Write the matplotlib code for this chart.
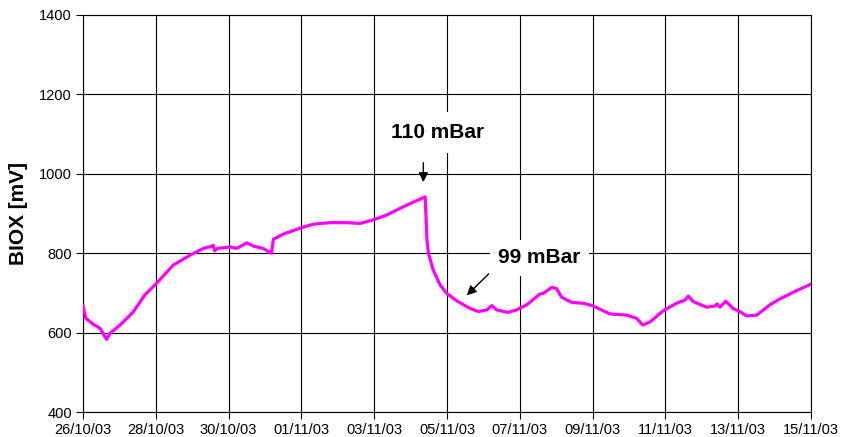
import numpy as np
import pandas as pd
import matplotlib
matplotlib.use("Agg")
import matplotlib.pyplot as plt
import matplotlib.dates as mdates

plt.rcParams['font.family'] = ['Liberation Sans', 'DejaVu Sans']

start = pd.Timestamp('2003-10-26')
# days since 26/10/03 and BIOX readings in mV
days = [0.0, 0.08, 0.28, 0.47, 0.6, 0.65, 0.74, 1.02, 1.38, 1.70, 2.02, 2.48, 2.94,
        3.31, 3.55, 3.58, 3.62, 3.70, 4.04, 4.22, 4.50, 4.68, 4.95, 5.14, 5.18,
        5.23, 5.50, 5.96, 6.33, 6.79, 7.24, 7.61, 7.98, 8.34, 8.80, 9.40, 9.42,
        9.45, 9.49, 9.62, 9.81, 9.99, 10.27, 10.63, 10.86, 11.09, 11.23, 11.37,
        11.68, 11.91, 12.19, 12.55, 12.65, 12.88, 13.01, 13.15, 13.43, 13.74,
        14.02, 14.48, 14.94, 15.21, 15.38, 15.58, 15.94, 16.31, 16.54, 16.63,
        16.77, 17.13, 17.36, 17.42, 17.50, 17.66, 17.86, 18.05, 18.23, 18.51,
        18.87, 19.15, 19.61, 20.0]
biox = [668, 636, 621, 611, 590, 583, 598, 619, 652, 695, 724, 770, 795,
        812, 818, 820, 806, 812, 816, 812, 826, 818, 812, 802, 800,
        835, 848, 863, 873, 877, 877, 875, 884, 896, 917, 942, 900,
        833, 800, 758, 720, 699, 680, 661, 653, 657, 668, 657,
        651, 657, 670, 697, 699, 714, 711, 689, 676, 674,
        667, 647, 644, 636, 619, 627, 655, 674, 682, 692,
        678, 664, 667, 672, 664, 679, 661, 653, 642, 644,
        670, 685, 706, 722]

x_ticks = pd.date_range('2003-10-26', '2003-11-15', freq='2D')

dates = start + pd.to_timedelta(days, unit='D')

fig = plt.figure(figsize=(8.42, 4.37), dpi=100)
ax = fig.add_axes([83/842, 25/437, 728/842, 397/437])

ax.plot(dates, biox, color='#ff00ff', lw=2.3, zorder=3)

ax.set_xlim(x_ticks[0], x_ticks[-1])
ax.set_ylim(400, 1400)
ax.set_yticks(range(400, 1401, 200))
ax.set_xticks(x_ticks)
ax.xaxis.set_major_formatter(mdates.DateFormatter('%d/%m/%y'))
ax.grid(True, color='black', lw=0.8)
ax.set_axisbelow(True)
for s in ax.spines.values():
    s.set_color('black')
    s.set_linewidth(0.8)
ax.tick_params(direction='out', length=5, width=0.8, labelsize=10.5, pad=3)
ax.set_ylabel('BIOX [mV]', fontsize=15, fontweight='bold', labelpad=8)

d = lambda v: start + pd.Timedelta(days=v)

arrow = dict(arrowstyle='-|>', color='black', lw=1, mutation_scale=14)

ax.text(d(9.75), 1103, '110 mBar', fontsize=15, fontweight='bold', ha='center', va='center',
        bbox=dict(facecolor='white', edgecolor='none', pad=8), zorder=4)
ax.annotate('', xy=(d(9.35), 972), xytext=(d(9.35), 1035), arrowprops=arrow, zorder=5)

ax.text(d(12.54), 788, '99 mBar', fontsize=15, fontweight='bold', ha='center', va='center',
        bbox=dict(facecolor='white', edgecolor='none', pad=6), zorder=4)
ax.annotate('', xy=(d(10.49), 689), xytext=(d(11.2), 753), arrowprops=arrow, zorder=5)

fig.savefig('out.png', dpi=100)
